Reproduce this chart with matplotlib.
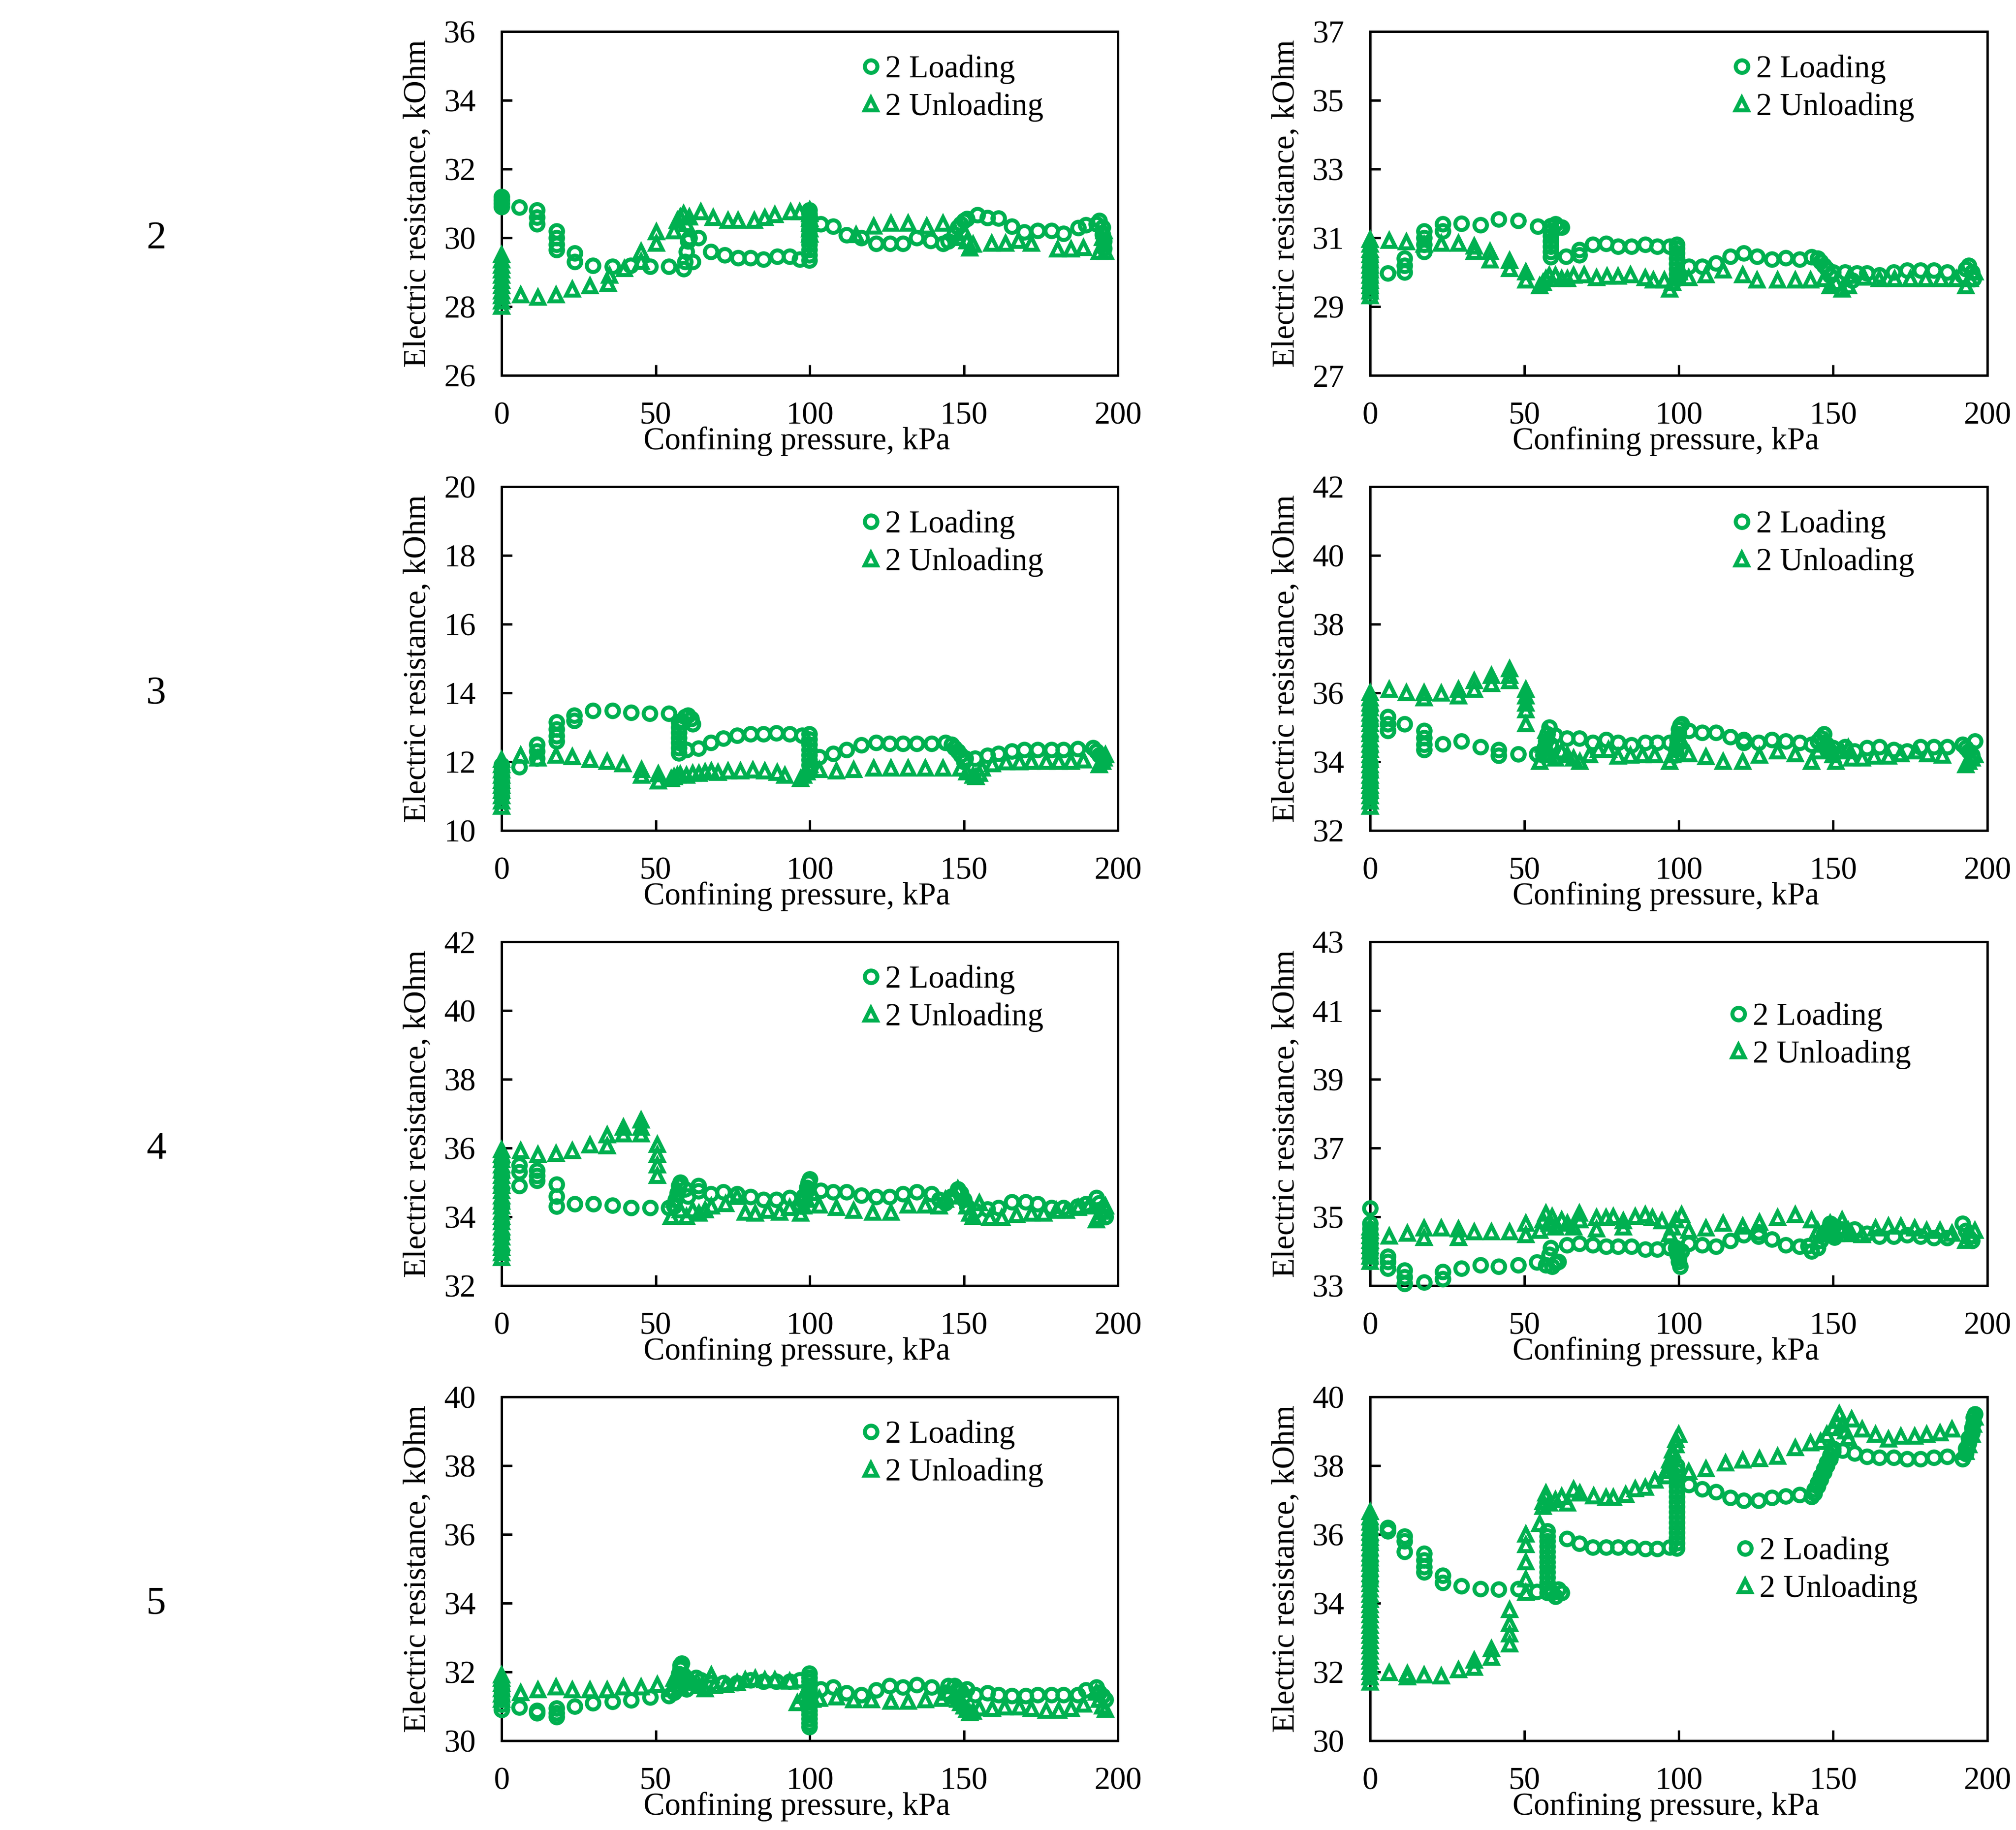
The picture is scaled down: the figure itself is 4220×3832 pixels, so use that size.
import matplotlib
matplotlib.use('agg')
import matplotlib.pyplot as plt

plt.rcParams['font.family'] = ['Liberation Serif', 'DejaVu Serif']

GREEN = '#00B050'

# each series: list of (confining pressure kPa, [resistance readings kOhm at that step])
a_load = [(0, [30.9, 31.0, 31.1, 31.2]), (5.8, [30.89]), (11.4, [30.8, 30.6, 30.4]),
          (17.8, [30.2, 30.0, 29.8, 29.65]), (23.7, [29.55, 29.3]), (29.6, [29.2]), (35.9, [29.17]),
          (41.8, [29.2]), (48.2, [29.17]), (54.3, [29.17]), (59, [29.1]), (59.5, [29.3]), (60, [29.6]),
          (60.5, [29.9]), (61, [30.0]), (62, [29.3]), (63.9, [30.0]), (67.9, [29.6]), (72.4, [29.5]),
          (76.7, [29.42]), (80.7, [29.42]), (85, [29.38]), (89.4, [29.46]), (93.5, [29.46]), (96.7, [29.38]),
          (99.9, [29.35, 29.5, 29.65, 29.8, 29.95, 30.1, 30.25, 30.4, 30.55, 30.7, 30.8]),
          (103.6, [30.4]), (107.6, [30.33]), (112, [30.09]),
          (116.7, [30.0]), (121.5, [29.84]), (126, [29.84]), (130.3, [29.84]), (134.8, [30.0]), (139.2, [29.92]),
          (143.2, [29.84]), (145, [29.9]), (147, [30.1]), (148, [30.3]), (149, [30.4]), (150, [30.5]),
          (151, [30.55]), (154.4, [30.67]), (157.6, [30.58]), (161.2, [30.57]), (165.6, [30.33]),
          (169.6, [30.17]), (174, [30.21]), (178.4, [30.21]), (182.4, [30.13]), (187.2, [30.29]),
          (189.6, [30.38]), (193, [30.4]), (194, [30.5]), (195, [30.3, 30.1]), (195.5, [29.9, 29.7])]
a_unload = [(0, [28.0, 28.15, 28.3, 28.45, 28.6, 28.75, 28.9, 29.05, 29.2, 29.35, 29.5]), (6.2, [28.34]),
            (11.8, [28.26]), (17.6, [28.34]), (23, [28.5]), (28.7, [28.6]), (34.5, [28.67]), (35, [28.9]),
            (39.9, [29.1]), (45.2, [29.3, 29.6]), (50.3, [29.84, 30.17]), (56, [30.2]), (57, [30.5]),
            (58, [30.6]), (59, [30.7]), (60, [30.4]), (61, [30.6]), (64.7, [30.75]), (68.7, [30.58]),
            (73.5, [30.5]), (76.7, [30.5]), (82, [30.5]), (85.5, [30.58]), (88.7, [30.67]), (93.8, [30.75]),
            (96.7, [30.75]), (100, [30.1, 30.25, 30.4, 30.55, 30.7, 30.8]), (115.1, [30.09]), (120.7, [30.33]),
            (126.3, [30.42]), (132, [30.42]), (138, [30.33]), (143.2, [30.42]), (148, [30.0]), (150, [30.2]),
            (151, [29.9]), (152, [29.7]), (153, [29.8]), (159, [29.84]), (163.6, [29.84]), (167.7, [29.92]),
            (172, [29.84]), (180.5, [29.67]), (184.8, [29.67]), (188.8, [29.71]), (194, [29.6]),
            (195, [29.8, 30.0]), (195.5, [30.2]), (196, [29.6])]

b_load = [(0, [29.3, 29.45, 29.6, 29.75, 29.9, 30.05, 30.2, 30.35]), (5.7, [29.97]), (11.2, [30.4, 30.2, 30.0]),
          (17.5, [31.2, 31.0, 30.8, 30.6]), (23.5, [31.4, 31.2]), (29.5, [31.42]), (35.7, [31.38]),
          (41.7, [31.54]), (48, [31.5]), (54.3, [31.34]), (58.5, [30.45, 30.6, 30.75, 30.9, 31.05, 31.2, 31.35]),
          (60, [31.4]), (61, [31.3]), (62, [31.3]), (63.5, [30.46]), (67.8, [30.5, 30.65]),
          (72.2, [30.8]), (76.5, [30.84]), (80.4, [30.75]), (84.7, [30.75]), (89.1, [30.8]), (93, [30.75]),
          (97, [30.75]), (99.4, [29.8, 29.95, 30.1, 30.25, 30.4, 30.55, 30.7, 30.8]), (103.3, [30.17]),
          (107.6, [30.17]), (112, [30.26]), (116.7, [30.46]), (121, [30.55]), (125.4, [30.46]), (130.2, [30.38]),
          (134.6, [30.42]), (139.2, [30.38]), (143, [30.45]), (145, [30.4]), (146, [30.3]), (147, [30.2]),
          (148, [30.1]), (149, [29.9]), (150, [30.0]), (153.9, [30.0]), (156.2, [29.76]), (157.8, [29.97]),
          (161, [29.97]), (165, [29.92]), (169.7, [30.0]), (174, [30.05]), (178.4, [30.05]), (182.6, [30.05]),
          (187, [30.0]), (192, [29.9]), (193, [30.1]), (194, [30.2]), (195, [30.0]), (195.5, [29.8])]
b_unload = [(0, [29.3, 29.45, 29.6, 29.75, 29.9, 30.05, 30.2, 30.35, 30.5, 30.65, 30.8, 30.95]), (6.2, [30.92]),
            (11.7, [30.88]), (17.5, [30.8]), (23, [30.84]), (28.7, [30.84]), (33.8, [30.75, 30.6]),
            (38.9, [30.6, 30.35]), (45.2, [30.34, 30.1]), (50.4, [30.0, 29.76]), (55, [29.6]), (56, [29.7]),
            (57, [29.8]), (58, [29.9]), (60, [29.9]), (62, [29.8]), (64, [29.8]), (66, [29.9]), (69.4, [29.92]),
            (73.3, [29.84]), (76.8, [29.88]), (80.4, [29.88]), (84.4, [29.92]), (89.1, [29.84]), (91.8, [29.76]),
            (95.4, [29.76]), (97, [29.5]), (98, [29.7]), (99, [29.9]), (100.2, [30.0]), (103.3, [29.84]),
            (108.8, [29.92]), (114.4, [30.05]), (120.7, [29.92]), (125.4, [29.76]), (132, [29.76]),
            (137.8, [29.76]), (142.8, [29.76]), (147, [29.8]), (149, [29.6]), (151, [29.7]), (153, [29.5]),
            (155, [29.6]), (155.5, [29.9]), (160, [29.85]), (165, [29.8]), (170, [29.8]), (175, [29.8]),
            (180, [29.8]), (185, [29.8]), (190, [29.8]), (193, [29.6]), (194.5, [29.8]), (196, [30.0])]

c_load = [(0, [11.0, 11.15, 11.3, 11.45, 11.6, 11.75, 11.9]), (5.8, [11.85]), (11.4, [12.5, 12.3, 12.1]),
          (17.8, [13.15, 12.95, 12.75, 12.6]), (23.5, [13.35, 13.2]), (29.6, [13.48]), (35.9, [13.48]),
          (42, [13.43]), (48, [13.4]), (54.3, [13.4]), (57.5, [12.25, 12.4, 12.55, 12.7, 12.85, 13.0, 13.15]),
          (58.5, [13.2]), (59.5, [13.3]), (60, [12.35]), (60.5, [13.35]), (61.5, [13.25]), (62, [13.1]),
          (63.9, [12.39]), (67.9, [12.56]), (71.9, [12.68]), (76.4, [12.77]), (80.7, [12.81]), (85, [12.81]),
          (89.2, [12.83]), (93.5, [12.81]), (97.5, [12.77]),
          (99.9, [11.9, 12.05, 12.2, 12.35, 12.5, 12.65, 12.8]),
          (103.1, [12.14]), (107.6, [12.23]), (112, [12.35]), (116.7, [12.48]), (121.5, [12.56]),
          (125.9, [12.53]), (130.3, [12.53]), (134.8, [12.53]), (139.5, [12.53]), (144, [12.55]),
          (146, [12.5]), (147, [12.4]), (148, [12.3]), (149, [12.2]), (150, [12.0]), (150.5, [12.1]),
          (153.6, [12.1]), (157.6, [12.18]), (161.2, [12.23]), (165.6, [12.31]), (169.6, [12.35]),
          (174, [12.35]), (178.4, [12.35]), (182.4, [12.35]), (186.9, [12.37]), (192, [12.4]),
          (193, [12.3]), (194, [12.2]), (195, [12.1])]
c_unload = [(0, [10.7, 10.85, 11.0, 11.15, 11.3, 11.45, 11.6, 11.75, 11.9, 12.05]), (6.2, [12.18]), (11.8, [12.1]),
            (17.6, [12.18]), (23, [12.14]), (28.7, [12.06]), (34.3, [12.0]), (39.4, [11.93]),
            (45.5, [11.77, 11.6]), (50.8, [11.64, 11.43]), (55, [11.5]), (56, [11.55]), (57, [11.6]),
            (58, [11.62]), (60, [11.6]), (62, [11.65]), (64, [11.65]), (66, [11.7]), (68, [11.72]),
            (70.3, [11.68]), (73.5, [11.72]), (77.5, [11.72]), (81.5, [11.75]), (85.5, [11.72]),
            (89.5, [11.68]), (91.9, [11.6]), (97, [11.5]), (98, [11.6]), (99, [11.7]), (100, [11.8, 11.9]),
            (103.1, [11.77]), (108.7, [11.72]), (114.3, [11.77]), (120.7, [11.8]), (126.3, [11.8]),
            (132, [11.8]), (137.5, [11.8]), (143.2, [11.8]), (149, [11.8]), (151, [11.7]), (153, [11.6]),
            (154, [11.55]), (155, [11.65]), (156, [11.8]), (159.2, [11.93]), (163.7, [11.98]), (168, [11.98]),
            (172, [12.0]), (176.8, [12.0]), (180.8, [12.0]), (184.8, [12.0]), (188.8, [12.04]),
            (194, [11.9]), (195, [12.0]), (195.5, [12.1]), (196, [12.2])]

d_load = [(0, [33.0, 33.3, 33.6, 33.9, 34.3, 34.7, 35.1, 35.5]), (5.7, [35.3, 35.1, 34.9]), (11.2, [35.1]),
          (17.5, [34.9, 34.7, 34.5, 34.35]), (23.5, [34.52]), (29.5, [34.6]), (35.7, [34.43]),
          (41.7, [34.35, 34.18]), (48, [34.22]), (54, [34.22]), (56, [34.2]), (56.5, [34.4]), (57, [34.6]),
          (57.5, [34.8]), (58, [35.0]), (58.5, [34.5]), (59.9, [34.77]), (63.8, [34.68]), (67.8, [34.68]),
          (72.2, [34.56]), (76.5, [34.64]), (80.4, [34.56]), (84.7, [34.48]), (89.1, [34.56]), (93, [34.56]),
          (97, [34.56]), (99, [34.2, 34.35]), (99.5, [34.5, 34.65]), (100, [34.8, 34.95]), (100.5, [35.05]),
          (101, [35.1]), (103.3, [34.9]), (107.6, [34.85]), (112, [34.85]), (116.7, [34.72]), (121, [34.64, 34.56]),
          (125.8, [34.56]), (130.2, [34.64]), (134.6, [34.6]), (139.2, [34.56]), (143, [34.5]), (145, [34.6]),
          (146, [34.7]), (147, [34.8]), (148, [34.5]), (149, [34.3]), (150, [34.4]), (153.9, [34.43]),
          (157, [34.3]), (161, [34.4]), (165, [34.43]), (169.7, [34.35]), (174, [34.3]), (178.4, [34.43]),
          (182.6, [34.43]), (187, [34.43]), (192, [34.5]), (193, [34.4]), (194, [34.3]), (195, [34.2]),
          (196, [34.6])]
d_unload = [(0, [32.7, 32.85, 33.0, 33.15, 33.3, 33.45, 33.6, 33.75, 33.9, 34.05, 34.2, 34.35, 34.5, 34.65,
                 34.8, 34.95, 35.1, 35.25, 35.4, 35.55, 35.7, 35.85, 36.0]),
            (6.2, [36.1]), (11.7, [36.0]), (17.5, [36.0, 35.85]), (23, [35.98]), (28.7, [36.1, 35.9]),
            (33.8, [36.35, 36.1]), (39.3, [36.5, 36.27]), (45.2, [36.7, 36.5, 36.35]),
            (50.4, [36.1, 35.9, 35.7, 35.5, 35.1]), (55, [34.0]), (56, [34.5]), (57, [34.9]), (58, [34.2]),
            (60, [34.1]), (62, [34.3]), (64, [34.2]), (66, [34.1]), (68, [34.0]), (71, [34.2]), (74, [34.35]),
            (77.3, [34.35]), (80.4, [34.15]), (84.4, [34.18]), (88.3, [34.2]), (92.3, [34.2]), (97, [34.0]),
            (98, [34.2]), (99, [34.4]), (101, [34.6]), (103.3, [34.22]), (108.8, [34.14]), (114.4, [34.0]),
            (120.7, [34.0]), (126.2, [34.18]), (132, [34.3]), (137.8, [34.22]), (143, [34.0]), (145, [34.3]),
            (147, [34.5]), (148, [34.6]), (149, [34.4]), (150, [34.2]), (151, [34.0]), (153, [34.3]),
            (155, [34.4]), (156, [34.1]), (159.4, [34.1]), (163.3, [34.15]), (168, [34.15]), (172, [34.22]),
            (176.8, [34.3]), (180.7, [34.22]), (185.5, [34.18]), (193, [33.9]), (194, [34.0]), (195, [34.1]),
            (196, [34.2])]

e_load = [(0, [33.0, 33.4, 33.8, 34.3, 34.8, 35.2, 35.6]), (5.8, [35.5, 35.3, 34.9]), (11.4, [35.35, 35.2, 35.05]),
          (17.8, [34.95, 34.6, 34.3]), (23.7, [34.38]), (29.8, [34.38]), (35.9, [34.34]), (42, [34.26]),
          (48.2, [34.26]), (54.3, [34.26]), (56, [34.3]), (56.5, [34.5]), (57, [34.7]), (57.5, [34.9]),
          (58, [35.0]), (59.5, [34.8]), (60.5, [34.6]), (63.9, [34.9, 34.75]), (67.9, [34.67]), (71.9, [34.72]),
          (76.4, [34.67]), (80.7, [34.59]), (85, [34.5]), (89.2, [34.5]), (93.5, [34.55]), (97, [34.3]),
          (98, [34.45, 34.6]), (99, [34.75, 34.85]), (99.5, [35.0]), (100, [35.1]), (103.6, [34.76]),
          (107.6, [34.72]), (112, [34.72]), (116.7, [34.63]), (121.5, [34.59]), (125.9, [34.59]), (130.3, [34.67]),
          (134.8, [34.72]), (139.5, [34.67]), (142, [34.5]), (144, [34.4]), (146, [34.6]), (148, [34.8]),
          (149, [34.7]), (150, [34.5]), (151, [34.3]), (153.6, [34.18]), (157.6, [34.22]), (161.2, [34.26]),
          (165.6, [34.43]), (170, [34.43]), (174, [34.38]), (178.4, [34.26]), (182.4, [34.26]),
          (186.9, [34.3]), (189.6, [34.38]), (193, [34.55]), (194, [34.4]), (195, [34.2]), (196, [34.0])]
e_unload = [(0, [32.8, 32.95, 33.1, 33.25, 33.4, 33.55, 33.7, 33.85, 34.0, 34.15, 34.3, 34.45, 34.6, 34.75,
                 34.9, 35.05, 35.2, 35.35, 35.5, 35.65, 35.8, 35.95]),
            (6.2, [35.92]), (11.8, [35.8]), (17.6, [35.84]), (23, [35.92]), (28.7, [36.08]),
            (34.3, [36.37, 36.05]), (39.6, [36.6, 36.4]), (45.2, [36.8, 36.6, 36.4]),
            (50.6, [36.1, 35.8, 35.5, 35.2]), (55, [34.0]), (56, [34.5]), (57, [34.8]), (58, [34.2]),
            (60, [34.0]), (62, [34.2]), (64, [34.1]), (66, [34.2]), (68, [34.3]), (72.7, [34.38]),
            (76.4, [34.59]), (79.1, [34.13]), (82.3, [34.1]), (86.3, [34.18]), (90.3, [34.13]), (93.5, [34.26]),
            (97, [34.1]), (98, [34.3]), (99, [34.5]), (101, [34.7]), (103.1, [34.34]), (108.7, [34.26]),
            (114.3, [34.18]), (120.4, [34.13]), (126.3, [34.13]), (132, [34.34]), (137.5, [34.34]),
            (142, [34.3]), (144, [34.5]), (146, [34.6]), (148, [34.8]), (150, [34.6]), (151, [34.3]),
            (152, [34.1]), (153, [34.0]), (155, [34.4]), (158.4, [33.97]), (162.4, [33.97]), (167.2, [34.05]),
            (172, [34.1]), (176, [34.1]), (180, [34.18]), (183.2, [34.18]), (187.2, [34.26]), (190.4, [34.3]),
            (193, [33.9]), (194, [34.0]), (195, [34.15]), (196, [34.3])]

f_load = [(0, [35.25, 34.8, 34.65, 34.5, 34.35, 34.2, 34.05, 33.9, 33.7]), (5.7, [33.85, 33.7, 33.5]),
          (11.2, [33.45, 33.25, 33.05]), (17.5, [33.1]), (23.5, [33.4, 33.2]), (29.5, [33.5]), (35.7, [33.6]),
          (41.7, [33.56]), (48, [33.6]), (54, [33.68]), (57, [33.6]), (58, [33.9]), (58.5, [34.1]),
          (59, [33.55]), (60, [33.65]), (61, [33.7]), (63.8, [34.18]), (67.8, [34.22]), (72.2, [34.18]),
          (76.5, [34.14]), (80.4, [34.14]), (84.7, [34.14]), (89.1, [34.06]), (93, [34.06]), (97, [34.1]),
          (99, [34.1]), (99.5, [33.9, 34.0]), (100, [33.7, 33.8]), (100.5, [33.55]), (101, [34.0]),
          (103.3, [34.22]), (107.6, [34.18]), (112, [34.14]),
          (116.7, [34.3]), (121, [34.47]), (125.8, [34.55, 34.43]), (130.2, [34.35]), (134.6, [34.18]),
          (139.2, [34.14]), (142, [34.15]), (143, [34.0]), (145, [34.1]), (146, [34.3]), (147, [34.5]),
          (148, [34.6]), (149, [34.8]), (150, [34.7]), (150.5, [34.4]), (153.1, [34.64]), (157, [34.64]),
          (161, [34.51]), (165, [34.43]), (169.7, [34.43]), (174, [34.47]), (178.4, [34.43]),
          (182.6, [34.39]), (187, [34.39]), (192, [34.8]), (193, [34.6]), (194, [34.4]), (195, [34.3])]
f_unload = [(0, [33.7, 33.85, 34.0, 34.15, 34.3, 34.45, 34.6, 34.7]), (6.2, [34.43]), (12, [34.51]),
            (17.5, [34.67, 34.39]), (23, [34.67]), (28.7, [34.64, 34.39]), (33.8, [34.55]), (39.3, [34.55]),
            (45.2, [34.55]), (50.4, [34.8, 34.47]), (55, [34.6]), (56, [34.9]), (57, [35.1]), (58, [34.8]),
            (59, [35.0]), (60, [34.7]), (62, [34.9]), (64, [34.8]), (66, [34.7]), (67.8, [35.1]), (68, [34.9]),
            (73.3, [34.97, 34.64]), (76.5, [34.97]), (78.8, [35.0]), (82, [34.88, 34.7]), (85.9, [35.0]),
            (89.1, [35.05]), (91.5, [34.97]), (94.6, [34.88]), (97, [34.5]), (98, [34.7]), (99, [34.9]),
            (101, [35.05]), (103.3, [34.6]), (108.8, [34.67]), (114.4, [34.8]), (120.7, [34.72]),
            (126.2, [34.84]), (132, [34.97]), (137.8, [35.05]), (143, [34.9]), (145, [34.6]), (147, [34.5]),
            (148, [34.7]), (149, [34.8]), (150, [34.6]), (151, [34.5]), (152, [34.7]), (153, [34.9]),
            (155, [34.6]), (156, [34.5]), (159.4, [34.47]), (163.7, [34.67]), (168, [34.72]), (172, [34.72]),
            (176.5, [34.67]), (180.4, [34.6]), (184.7, [34.6]), (188.6, [34.51]), (193, [34.3]),
            (194.5, [34.45]), (196, [34.6])]

g_load = [(0, [30.9, 31.05, 31.2, 31.35, 31.5]), (5.8, [30.97]), (11.4, [30.88, 30.8]),
          (17.8, [30.95, 30.8, 30.7]), (23.7, [31.0]), (29.6, [31.1]), (35.9, [31.14]), (42, [31.18]),
          (48.2, [31.26]), (54.3, [31.3]), (56, [31.4]), (57, [31.6]), (57.5, [31.8, 31.95]),
          (58, [32.1, 32.2]), (58.5, [32.25]), (59, [31.9]), (60, [31.5]), (61, [31.7]), (63.1, [31.84]),
          (64.7, [31.76]), (67.9, [31.68]), (71.9, [31.68]), (76.4, [31.68]), (80.7, [31.76]), (85, [31.72]),
          (89.2, [31.72]), (93.5, [31.72]), (96.7, [31.76]),
          (99.9, [30.4, 30.52, 30.64, 30.76, 30.88, 31.0, 31.12, 31.24, 31.36, 31.48, 31.6, 31.72, 31.84, 31.96]),
          (103.6, [31.5]), (107.6, [31.55]),
          (112, [31.39]), (116.7, [31.34]), (121.5, [31.47]), (125.9, [31.6]), (130.3, [31.55]),
          (134.8, [31.63]), (139.5, [31.55]), (144, [31.4]), (145, [31.6]), (147, [31.6]), (148, [31.5]),
          (149, [31.45]), (150, [31.3]), (151, [31.5]), (153.6, [31.34]), (157.6, [31.39]), (161.2, [31.34]),
          (165.6, [31.3]), (170, [31.3]), (174, [31.34]), (178.4, [31.34]), (182.4, [31.34]),
          (186.9, [31.34]), (189.6, [31.47]), (193, [31.55]), (194, [31.4]), (195, [31.3]), (196, [31.2])]
g_unload = [(0, [31.2, 31.35, 31.5, 31.65, 31.8, 31.9]), (6.2, [31.39]), (11.8, [31.47]), (17.6, [31.55]),
            (23, [31.47]), (28.7, [31.47]), (34.3, [31.47]), (39.6, [31.55]), (45.2, [31.55]), (50.6, [31.63]),
            (55, [31.5]), (56, [31.8]), (57, [31.9]), (58, [31.6]), (60, [31.8]), (62, [31.7]), (64, [31.6]),
            (66, [31.5]), (68, [31.9]), (69, [31.6]), (72.7, [31.63]), (76.4, [31.68]), (79.1, [31.76]),
            (82.3, [31.8]), (85.5, [31.76]), (88.7, [31.76]), (93.5, [31.72]), (96, [31.1]), (98, [31.3]),
            (99, [31.5]), (101, [31.2]), (103.1, [31.22]), (108.7, [31.26]), (114.3, [31.18]), (120, [31.18]),
            (126.3, [31.14]), (132, [31.14]), (137.5, [31.18]), (142.8, [31.22]), (145, [31.4]), (147, [31.3]),
            (148, [31.2]), (149, [31.1]), (150, [31.0]), (151, [30.9]), (152, [30.8]), (153, [30.85]),
            (155, [30.95]), (159.2, [30.93]), (163.2, [30.97]), (168, [30.97]), (172, [30.93]), (176.8, [30.88]),
            (180.8, [30.88]), (184.8, [30.93]), (188.8, [31.05]), (193, [31.4]), (194, [31.2]), (195, [31.0]),
            (196, [30.9])]

h_load = [(0, [34.6, 34.8, 35.0, 35.2, 35.4, 35.6, 35.8, 36.0, 36.2]), (5.7, [36.2, 36.1]),
          (11.2, [35.95, 35.8, 35.5]), (17.5, [35.45, 35.25, 35.05, 34.9]), (23.5, [34.8, 34.6]), (29.5, [34.5]),
          (35.7, [34.42]), (41.7, [34.4]), (48, [34.42]), (54, [34.33]),
          (57.5, [34.3, 34.45, 34.6, 34.75, 34.9, 35.05, 35.2, 35.35, 35.5, 35.65, 35.8, 35.95, 36.1]),
          (59, [34.3]), (60, [34.2]), (61, [34.4]), (62, [34.3]), (63.8, [35.87]),
          (67.8, [35.74]), (72.2, [35.62]), (76.5, [35.62]), (80.4, [35.62]), (84.7, [35.62]), (89.1, [35.58]),
          (93, [35.58]), (97, [35.62]),
          (99.4, [35.6, 35.75, 35.9, 36.05, 36.2, 36.35, 36.5, 36.65, 36.8, 36.95, 37.1, 37.25, 37.4, 37.55,
                  37.7, 37.85, 38.0]),
          (103.3, [37.44]), (107.6, [37.32]), (112, [37.24]), (116.7, [37.07]), (121, [36.99]),
          (125.8, [36.99]), (130.2, [37.07]), (134.6, [37.11]), (139.2, [37.15]), (143, [37.1]),
          (144, [37.2, 37.3]), (145, [37.4, 37.5]), (146, [37.6, 37.7]), (147, [37.8, 37.9]), (148, [38.0, 38.1]),
          (149, [38.2, 38.3]), (150, [38.4, 38.5]), (153.1, [38.44]), (157, [38.36]), (161, [38.27]),
          (165, [38.23]), (169.7, [38.23]), (174, [38.19]), (178.4, [38.19]), (182.6, [38.23]), (187, [38.27]),
          (192, [38.2]), (193, [38.35, 38.5]), (194, [38.65, 38.8]), (195, [38.95, 39.1]), (195.5, [39.25, 39.4]),
          (196, [39.5])]
h_unload = [(0, [31.7, 31.85, 32.0, 32.15, 32.3, 32.45, 32.6, 32.75, 32.9, 33.05, 33.2, 33.35, 33.5, 33.65,
                 33.8, 33.95, 34.1, 34.25, 34.4, 34.55, 34.7, 34.85, 35.0, 35.15, 35.3, 35.45, 35.6, 35.75,
                 35.9, 36.05, 36.2, 36.35, 36.5, 36.65]),
            (6.2, [31.97]), (12, [31.95, 31.85]), (17.5, [31.9]), (23, [31.88]), (28.7, [32.05]),
            (33.8, [32.34, 32.13]), (39.3, [32.67, 32.42]), (45.2, [33.8, 33.4, 33.1, 32.8]),
            (50.4, [36.0, 35.7, 35.2, 34.7, 34.3]), (55, [36.3]), (56, [36.8, 36.95]), (57, [37.1, 37.2]),
            (58, [36.9]), (60, [37.0]), (62, [37.1]), (64, [36.9]), (66, [37.3]), (68, [37.2]), (72.5, [37.11]),
            (76.5, [37.07]), (78.8, [37.07]), (82.8, [37.15]), (85.9, [37.32]), (89.1, [37.36]), (92.3, [37.57]),
            (96, [37.7, 37.85]), (97, [38.0, 38.15]), (98, [38.3, 38.45]), (99, [38.6, 38.75]), (100, [38.9]),
            (103.3, [37.82]), (108.8, [37.9]), (115.2, [38.07]), (120.7, [38.15]), (126.2, [38.19]),
            (132, [38.27]), (137.8, [38.52]), (142.8, [38.65]), (146, [38.7]), (148, [38.9]), (150, [39.1]),
            (151, [39.3]), (152, [39.5]), (153, [39.2]), (154, [39.0]), (155, [38.8]), (156, [39.35]),
            (159.4, [39.06]), (163.7, [38.9]), (168, [38.77]), (172, [38.85]), (176.5, [38.85]), (180.4, [38.9]),
            (184.7, [38.94]), (188.6, [39.06]), (193, [38.4]), (194, [38.6]), (195, [38.9]), (195.5, [39.2]),
            (196, [39.4])]

row_labels = ['2', '3', '4', '5']
y_limits = [(26, 36), (27, 37), (10, 20), (32, 42), (32, 42), (33, 43), (30, 40), (30, 40)]
panels = [(a_load, a_unload), (b_load, b_unload), (c_load, c_unload), (d_load, d_unload),
          (e_load, e_unload), (f_load, f_unload), (g_load, g_unload), (h_load, h_unload)]
# legend anchor (axes fraction) for each panel
legend_pos = [(0.586, 0.835), (0.589, 0.835), (0.586, 0.835), (0.589, 0.835),
              (0.586, 0.835), (0.584, 0.727), (0.586, 0.835), (0.595, 0.496)]


def flatten(steps):
    xs, ys = [], []
    for p, vals in steps:
        for v in vals:
            xs.append(p)
            ys.append(v)
    return xs, ys


fig = plt.figure(figsize=(4220 / 300, 3832 / 300), dpi=300)
W, H = 4220.0, 3832.0
col_left = [1050, 2868]
col_width = [1290, 1292]
row_top = [66, 1019, 1972, 2925]
ax_h = 720

for i, (load, unload) in enumerate(panels):
    r, c = divmod(i, 2)
    ax = fig.add_axes([col_left[c] / W, 1 - (row_top[r] + ax_h) / H, col_width[c] / W, ax_h / H])
    lx, ly = flatten(load)
    ux, uy = flatten(unload)
    ax.plot(lx, ly, 'o', ms=6.3, mew=2.0, mfc='none', mec=GREEN, label='2 Loading', clip_on=False, zorder=3)
    ax.plot(ux, uy, '^', ms=6.3, mew=2.0, mfc='none', mec=GREEN, label='2 Unloading', clip_on=False, zorder=3)
    lo, hi = y_limits[i]
    ax.set_xlim(0, 200)
    ax.set_ylim(lo, hi)
    ax.set_xticks([0, 50, 100, 150, 200])
    ax.set_yticks(range(lo, hi + 1, 2))
    ax.tick_params(direction='in', length=5.3, width=1.2, labelsize=16, pad=13)
    for s in ax.spines.values():
        s.set_linewidth(1.2)
    ax.set_xlabel('Confining pressure, kPa', fontsize=16, labelpad=-2)
    ax.xaxis.label.set_x(0.479)
    ax.set_ylabel('Electric resistance, kOhm', fontsize=16, labelpad=6)
    ax.legend(loc='center left', bbox_to_anchor=legend_pos[i], frameon=False, fontsize=16,
              handlelength=0.5, handletextpad=0.2, labelspacing=0.26, borderpad=0, borderaxespad=0)

for r, lab in enumerate(row_labels):
    yc = row_top[r] + ax_h / 2 + 74
    fig.text(327 / W, 1 - yc / H, lab, fontsize=20, ha='center', va='center')

fig.savefig('out.png', dpi=300)
